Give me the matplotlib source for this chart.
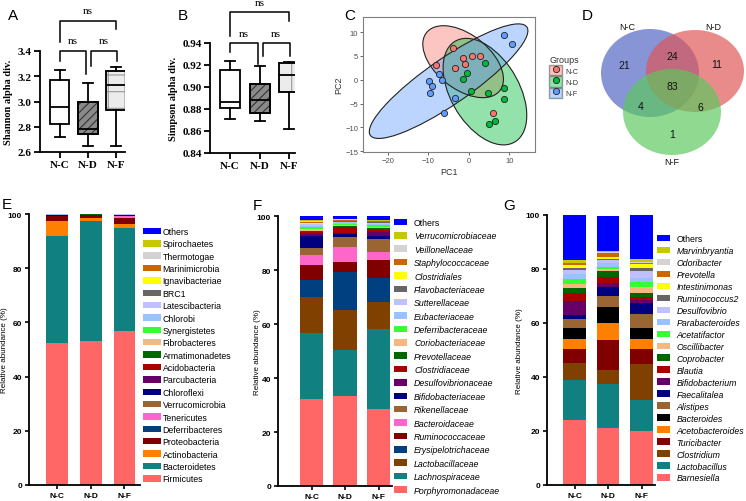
import numpy as np
import matplotlib
matplotlib.use('Agg')
import matplotlib.pyplot as plt
from matplotlib.patches import Ellipse, Patch, PathPatch
from matplotlib.lines import Line2D

# ---------------- DATA ----------------
groups = ['N-C', 'N-D', 'N-F']

# A: Shannon box plot stats
shannon_whislo = [2.72, 2.65, 2.65]
shannon_q1 = [2.82, 2.74, 2.93]
shannon_med = [2.96, 2.78, 3.13]
shannon_q3 = [3.17, 3.00, 3.24]
shannon_whishi = [3.25, 3.15, 3.27]

# B: Simpson box plot stats
simpson_whislo = [0.871, 0.869, 0.862]
simpson_q1 = [0.881, 0.876, 0.895]
simpson_med = [0.886, 0.888, 0.911]
simpson_q3 = [0.915, 0.903, 0.922]
simpson_whishi = [0.924, 0.919, 0.923]

sig_labels = ['ns', 'ns', 'ns']

# C: PCA scores
pca_nc_x = [-4.0, -8.1, -3.4, -1.5, -0.85, 0.9, 2.7, 6.0]
pca_nc_y = [6.7, 3.2, 2.4, 4.6, 3.3, 4.9, 5.1, -7.0]
pca_nd_x = [4.1, -0.35, -1.4, 0.55, 4.7, 8.7, 8.8, 6.5, 5.1]
pca_nd_y = [3.5, 1.5, 0.2, -2.3, -2.7, -1.8, -4.1, -8.7, -9.4]
pca_nf_x = [8.8, 10.7, -7.3, -6.7, -9.8, -9.1, -9.5, -3.5, -6.2]
pca_nf_y = [9.4, 7.6, 1.2, 0.0, -0.3, -1.3, -2.8, -3.9, -6.9]
# confidence ellipses (center x, center y, width, height, angle)
ell_cx = [-1.4, 4.0, -5.0]
ell_cy = [3.8, -2.5, -0.3]
ell_w = [22.0, 26.0, 45.0]
ell_h = [12.0, 16.0, 10.0]
ell_ang = [-30.0, -50.0, 30.0]
pca_colors = ['#F8766D', '#00BA38', '#619CFF']

# D: Venn counts
venn_regions = ['N-C only', 'N-D only', 'N-F only', 'N-C&N-D', 'N-C&N-F', 'N-D&N-F', 'all']
venn_values = [21, 11, 1, 24, 4, 6, 83]

# E: phylum level (cumulative % from bottom)
phylum_labels = ['Firmicutes', 'Bacteroidetes', 'Actinobacteria', 'Proteobacteria',
                 'Deferribacteres', 'Tenericutes', 'Verrucomicrobia', 'Chloroflexi',
                 'Parcubacteria', 'Acidobacteria', 'Armatimonadetes', 'Fibrobacteres',
                 'Synergistetes', 'Chlorobi', 'Latescibacteria', 'BRC1', 'Ignavibacteriae',
                 'Marinimicrobia', 'Thermotogae', 'Spirochaetes', 'Others']
phylum_cum_nc = [52.3, 92.0, 97.5, 99.1, 99.2, 99.25, 99.3, 99.7, 99.72, 99.74, 99.76, 99.78,
                 99.8, 99.82, 99.95, 99.96, 99.97, 99.98, 99.99, 99.995, 100.0]
phylum_cum_nd = [53.0, 97.3, 98.5, 99.5, 99.6, 99.65, 99.7, 99.75, 99.78, 99.8, 99.82, 99.84,
                 99.86, 99.88, 99.92, 99.94, 99.95, 99.96, 99.97, 99.98, 100.0]
phylum_cum_nf = [56.7, 94.7, 96.3, 98.5, 98.7, 99.3, 99.35, 99.55, 99.6, 99.65, 99.68, 99.7,
                 99.72, 99.75, 99.9, 99.92, 99.94, 99.95, 99.96, 99.98, 100.0]
phylum_colors = ['#FF6666', '#118080', '#FF8000', '#800000', '#004080', '#FF66CC', '#996633',
                 '#000080', '#660066', '#AA0000', '#006600', '#F5B880', '#33FF33', '#99C2FF',
                 '#C0C0FF', '#666666', '#FFFF00', '#CC6600', '#D3D3D3', '#C8C800', '#0000FF']

# F: family level
family_labels = ['Porphyromonadaceae', 'Lachnospiraceae', 'Lactobacillaceae', 'Erysipelotrichaceae',
                 'Ruminococcaceae', 'Bacteroidaceae', 'Rikenellaceae', 'Bifidobacteriaceae',
                 'Desulfovibrionaceae', 'Clostridiaceae', 'Prevotellaceae', 'Coriobacteriaceae',
                 'Deferribacteraceae', 'Eubacteriaceae', 'Sutterellaceae', 'Flavobacteriaceae',
                 'Clostridiales', 'Staphylococcaceae', 'Veillonellaceae', 'Verrucomicrobiaceae', 'Others']
family_cum_nc = [32.2, 56.5, 69.9, 76.4, 81.9, 85.6, 88.0, 92.7, 93.4, 94.0, 94.6, 95.2,
                 95.8, 96.4, 96.9, 97.1, 97.5, 97.9, 98.2, 98.5, 100.0]
family_cum_nd = [33.4, 50.5, 65.2, 79.1, 83.1, 88.4, 92.1, 93.2, 93.7, 95.8, 96.3, 96.8,
                 97.2, 97.6, 97.9, 98.1, 98.3, 98.6, 98.8, 98.9, 100.0]
family_cum_nf = [28.7, 58.3, 68.2, 77.0, 83.7, 86.8, 91.5, 92.7, 94.2, 94.9, 95.5, 95.9,
                 96.6, 97.0, 97.4, 97.6, 97.9, 98.1, 98.3, 98.5, 100.0]
family_colors = ['#FF6666', '#118080', '#804000', '#004080', '#800000', '#FF66CC', '#996633',
                 '#000080', '#660066', '#AA0000', '#006600', '#F5B880', '#33FF33', '#99C2FF',
                 '#C0C0FF', '#666666', '#FFFF00', '#CC6600', '#D3D3D3', '#C8C800', '#0000FF']

# G: genus level
genus_labels = ['Barnesiella', 'Lactobacillus', 'Clostridium', 'Turicibacter', 'Acetobacteroides',
                'Bacteroides', 'Alistipes', 'Faecalitalea', 'Bifidobacterium', 'Blautia',
                'Coprobacter', 'Oscillibacter', 'Acetatifactor', 'Parabacteroides', 'Desulfovibrio',
                'Ruminococcus2', 'Intestinimonas', 'Prevotella', 'Odoribacter', 'Marvinbryantia', 'Others']
genus_cum_nc = [24.0, 38.8, 45.3, 50.2, 54.2, 58.3, 61.4, 63.1, 68.1, 71.0, 73.1, 74.6,
                76.4, 78.0, 79.6, 80.5, 81.4, 82.1, 82.3, 83.2, 100.0]
genus_cum_nd = [21.1, 37.5, 42.5, 53.6, 59.9, 65.8, 69.9, 73.5, 74.9, 77.0, 79.3, 79.9,
                80.9, 82.3, 83.3, 83.8, 84.6, 85.8, 86.3, 86.7, 99.8]
genus_cum_nf = [20.0, 31.4, 44.9, 50.5, 54.2, 58.0, 63.2, 67.5, 68.5, 69.6, 71.0, 73.5,
                75.3, 76.5, 79.3, 80.5, 81.7, 82.3, 82.7, 83.6, 100.0]
genus_colors = ['#FF6666', '#118080', '#804000', '#800000', '#FF8000', '#000000', '#996633',
                '#000080', '#660066', '#AA0000', '#006600', '#F5B880', '#33FF33', '#99C2FF',
                '#C0C0FF', '#666666', '#FFFF00', '#CC6600', '#D3D3D3', '#C8C800', '#0000FF']

# ---------------- FIGURE ----------------
W, H = 746, 502
fig = plt.figure(figsize=(W / 100, H / 100), dpi=100)
SANS = ['Liberation Sans', 'DejaVu Sans']
SERIF = ['Liberation Serif', 'DejaVu Serif']
plt.rcParams['font.family'] = SANS
plt.rcParams['hatch.linewidth'] = 0.8


def px_axes(l, t, r, b):
    return fig.add_axes([l / W, 1 - b / H, (r - l) / W, (b - t) / H])


def panel_letter(x, y, s):
    fig.text(x / W, 1 - y / H, s, fontsize=11, family=SANS, va='baseline', ha='left')


# ---------- A & B: box plots ----------
def box_panel(ax, lo, q1, med, q3, hi, ylim, yticks, fmt, ylabel, xlim, br):
    stats = [dict(whislo=a, q1=b, med=c, q3=d, whishi=e, fliers=[])
             for a, b, c, d, e in zip(lo, q1, med, q3, hi)]
    lw = 1.3
    bp = ax.bxp(stats, positions=[1, 2, 3], widths=0.68, patch_artist=True, showfliers=False,
                capwidths=0.34,
                boxprops=dict(linewidth=lw, edgecolor='black'),
                medianprops=dict(color='black', linewidth=lw),
                whiskerprops=dict(color='black', linewidth=lw),
                capprops=dict(color='black', linewidth=lw))
    fills = ['white', '#8a8a8a', '#ececec']
    hatches = [None, '////', '+']
    hcols = ['black', '#333333', '#9a9a9a']
    for p, f, h, hc in zip(bp['boxes'], fills, hatches, hcols):
        p.set_facecolor(f)
        if h:
            p.set_hatch(h)
            p.set_edgecolor(hc)
            ax.add_patch(PathPatch(p.get_path(), facecolor='none', edgecolor='black',
                                   linewidth=lw, zorder=p.get_zorder() + 0.1))
    ax.set_ylim(*ylim)
    ax.set_xlim(*xlim)
    ax.set_yticks(yticks)
    ax.set_yticklabels([fmt.format(v) for v in yticks], family=SERIF, fontweight='bold', fontsize=8)
    ax.set_xticks([1, 2, 3])
    ax.set_xticklabels(groups, family=SERIF, fontweight='bold', fontsize=8)
    for s in ['top', 'right']:
        ax.spines[s].set_visible(False)
    for s in ['left', 'bottom']:
        ax.spines[s].set_linewidth(lw)
    ax.tick_params(width=lw, length=4, pad=2)
    ax.set_ylabel(ylabel, family=SERIF, fontweight='bold', fontsize=7.5, labelpad=3)
    tr = ax.get_xaxis_transform()
    kw = dict(color='black', lw=1.1, clip_on=False, transform=tr)
    # top bracket N-C vs N-F
    ax.plot([1, 1, 3, 3], [br['tl'], br['top'], br['top'], br['tr']], **kw)
    ax.plot([1, 1, 1.93, 1.93], [br['l1'], br['low'], br['low'], br['l2']], **kw)
    ax.plot([2.1, 2.1, 3.02, 3.02], [br['r1'], br['low'], br['low'], br['r2']], **kw)
    tkw = dict(family=SERIF, fontsize=8, ha='center', va='center', transform=tr)
    ax.text(2, br['ns_top'], sig_labels[0], **tkw)
    ax.text(1.47, br['ns_low'], sig_labels[1], **tkw)
    ax.text(2.55, br['ns_low'], sig_labels[2], **tkw)


axA = px_axes(40, 52, 125, 153)
box_panel(axA, shannon_whislo, shannon_q1, shannon_med, shannon_q3, shannon_whishi,
          (2.6, 3.4), [2.6, 2.8, 3.0, 3.2, 3.4], '{:.1f}', 'Shannon alpha div.', (0.29, 3.32),
          dict(top=1.30, tl=1.089, tr=1.218, low=1.003, l1=0.904, l2=0.772, r1=0.854, r2=0.904,
               ns_top=1.40, ns_low=1.10))
axB = px_axes(210, 44, 295, 154)
box_panel(axB, simpson_whislo, simpson_q1, simpson_med, simpson_q3, simpson_whishi,
          (0.84, 0.94), [0.84, 0.86, 0.88, 0.90, 0.92, 0.94], '{:.2f}', 'Simpson alpha div.',
          (0.32, 3.2),
          dict(top=1.279, tl=1.066, tr=1.203, low=0.997, l1=0.915, l2=0.809, r1=0.885, r2=0.885,
               ns_top=1.37, ns_low=1.09))

# ---------- C: PCA ----------
axC = px_axes(363, 18, 535, 153)
pts = [(pca_nc_x, pca_nc_y), (pca_nd_x, pca_nd_y), (pca_nf_x, pca_nf_y)]
for i in range(3):
    axC.add_patch(Ellipse((ell_cx[i], ell_cy[i]), ell_w[i], ell_h[i], angle=ell_ang[i],
                          facecolor=pca_colors[i], alpha=0.42, edgecolor='none', zorder=1))
    axC.add_patch(Ellipse((ell_cx[i], ell_cy[i]), ell_w[i], ell_h[i], angle=ell_ang[i],
                          facecolor='none', edgecolor='#222222', linewidth=0.8, zorder=1.5))
for i in range(3):
    axC.scatter(pts[i][0], pts[i][1], s=20, color=pca_colors[i], edgecolors='#222222',
                linewidths=0.6, zorder=3)
axC.set_xlim(-26.2, 16.4)
axC.set_ylim(-15.2, 13.2)
axC.set_xticks([-20, -10, 0, 10])
axC.set_yticks([-15, -10, -5, 0, 5, 10])
for s in axC.spines.values():
    s.set_color('#7f7f7f')
    s.set_linewidth(0.8)
axC.tick_params(colors='#4d4d4d', labelsize=5.5, length=2, width=0.6, pad=1.5)
axC.set_xlabel('PC1', fontsize=6.5, color='#333333', labelpad=2)
axC.set_ylabel('PC2', fontsize=6.5, color='#333333', labelpad=1)
handles = [(Patch(facecolor=c, alpha=0.42, edgecolor='#222222'),
            Line2D([], [], marker='o', color=c, mec='#222222', mew=0.6, ls='', ms=4.5))
           for c in pca_colors]
legC = axC.legend(handles, groups, title='Groups', loc='upper left',
                  bbox_to_anchor=(549 / W, 1 - 56 / H), bbox_transform=fig.transFigure,
                  frameon=False, fontsize=5.2, title_fontsize=6.5, handlelength=1.8,
                  handleheight=1.8, handletextpad=0.5, labelspacing=0.15, borderpad=0,
                  borderaxespad=0, alignment='left')
for t in legC.get_texts():
    t.set_color('#333333')
legC.get_title().set_color('#333333')

# ---------- D: Venn ----------
axD = px_axes(560, 0, 746, 200)
axD.set_xlim(560, 746)
axD.set_ylim(200, 0)
axD.axis('off')
venn_shapes = [((650, 74), 98, 88, '#4F63C4'), ((695, 72), 98, 82, '#E05555'),
               ((672, 113), 98, 86, '#5CC85C')]
for (c, w, h, col) in venn_shapes:
    axD.add_patch(Ellipse(c, w, h, facecolor=col, alpha=0.68, edgecolor='none'))
venn_pos = [(624, 66), (717, 65), (672, 135), (672, 57), (641, 107), (700, 108), (672, 87)]
for (x, y), v in zip(venn_pos, venn_values):
    axD.text(x, y, str(v), fontsize=7.5, ha='center', va='center', color='#111111')
for (x, y), g in zip([(627, 28), (713, 28), (672, 163)], groups):
    axD.text(x, y, g, fontsize=6.5, ha='center', va='center', color='#111111')


# ---------- E, F, G: stacked bars ----------
def stacked_panel(ax, cums, labels, colors, italic, xlim, bw, leg_xy, ls, hl, htp, ylab_x):
    cum = np.array(cums)
    heights = np.diff(cum, axis=1, prepend=0)
    bottoms = cum - heights
    x = np.arange(len(groups))
    bars = []
    for j, lab in enumerate(labels):
        bars.append(ax.bar(x, heights[:, j], bottom=bottoms[:, j], width=bw,
                           color=colors[j], linewidth=0, label=lab))
    ax.set_xlim(*xlim)
    ax.set_ylim(0, 100)
    ax.set_yticks([0, 20, 40, 60, 80, 100])
    ax.set_xticks(x)
    ax.set_xticklabels(groups)
    for t in ax.get_xticklabels() + ax.get_yticklabels():
        t.set_fontweight('bold')
        t.set_fontsize(6)
    for s in ['top', 'right']:
        ax.spines[s].set_visible(False)
    for s in ['left', 'bottom']:
        ax.spines[s].set_linewidth(1.3)
    ax.tick_params(width=1.2, length=3, pad=2)
    ax.set_ylabel('Relative abundance (%)', fontsize=5.8)
    ax.yaxis.set_label_coords(ylab_x, 0.5)
    leg = ax.legend(bars[::-1], labels[::-1], loc='upper left',
                    bbox_to_anchor=(leg_xy[0] / W, 1 - leg_xy[1] / H),
                    bbox_transform=fig.transFigure, frameon=False, fontsize=6.3,
                    labelspacing=ls, handlelength=hl, handleheight=0.75, handletextpad=htp,
                    borderpad=0, borderaxespad=0)
    if italic:
        for t in leg.get_texts():
            if t.get_text() != 'Others':
                t.set_fontstyle('italic')
    return ax


axE = px_axes(29, 215, 140, 486)
stacked_panel(axE, [phylum_cum_nc, phylum_cum_nd, phylum_cum_nf], phylum_labels, phylum_colors,
              False, (-0.83, 2.46), 0.65, (143, 228), 0.385, 2.0, 0.25, -0.19)
axF = px_axes(278, 217, 392, 487)
stacked_panel(axF, [family_cum_nc, family_cum_nd, family_cum_nf], family_labels, family_colors,
              True, (-1.0, 2.4), 0.69, (394, 219), 0.50, 1.5, 0.8, -0.15)
axG = px_axes(547, 216, 655, 486)
stacked_panel(axG, [genus_cum_nc, genus_cum_nd, genus_cum_nf], genus_labels, genus_colors,
              True, (-0.82, 2.4), 0.67, (657, 235), 0.34, 1.5, 0.7, -0.22)

panel_letter(8, 20, 'A')
panel_letter(178, 20, 'B')
panel_letter(344, 20, 'C')
panel_letter(582, 20, 'D')
panel_letter(2, 209, 'E')
panel_letter(253, 210, 'F')
panel_letter(503, 210, 'G')

fig.savefig('out.png', dpi=100)
